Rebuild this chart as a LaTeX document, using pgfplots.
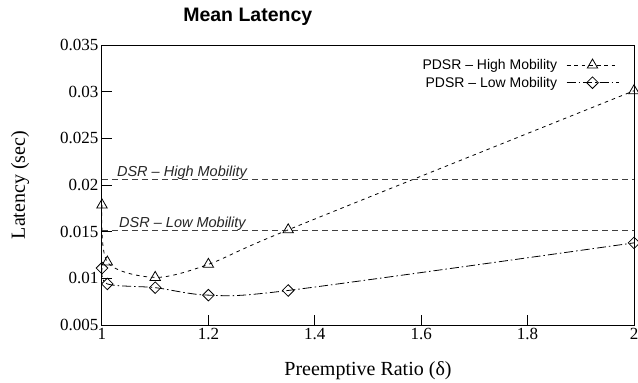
\documentclass[border=0pt]{standalone}
\usepackage{fontspec}
\setmainfont{Liberation Serif}
\newfontfamily\helv{Liberation Sans}
\usepackage{pgfplots}
\pgfplotsset{compat=1.18}
\begin{document}
\begin{tikzpicture}
\path[use as bounding box] (-102pt,-58pt) rectangle (536pt,325pt);
\begin{axis}[
  scale only axis, width=532pt, height=280pt,
  xmin=1, xmax=2, ymin=0.005, ymax=0.035,
  scaled y ticks=false, scaled x ticks=false,
  xtick={1,1.2,1.4,1.6,1.8,2}, xticklabels={1,1.2,1.4,1.6,1.8,2},
  ytick={0.005,0.01,0.015,0.02,0.025,0.03,0.035},
  yticklabels={0.005,0.01,0.015,0.02,0.025,0.03,0.035},
  xtick pos=bottom, ytick pos=left, tick align=inside, major tick length=10pt,
  tick style={black, line width=1pt},
  axis line style={line width=1pt},
  ticklabel style={font=\fontsize{17}{20}\selectfont},
  /pgf/number format/assume math mode=true,
  xlabel={Preemptive Ratio (δ)}, ylabel={Latency (sec)},
  label style={font=\fontsize{20}{24}\selectfont},
  xlabel style={at={(axis description cs:0.5,0)}, anchor=center, yshift=-46pt},
  ylabel style={at={(axis description cs:-0.1541,0.5)}, anchor=center, rotate=0},
  title={Mean Latency},
  title style={at={(axis description cs:0.274,1)}, anchor=base, yshift=18pt, font=\helv\bfseries\fontsize{19.5}{22}\selectfont},
  legend style={draw=none, fill=none, at={(axis description cs:0.972,0.957)}, anchor=north east,
    font=\helv\fontsize{14}{16}\selectfont, cells={anchor=east}, inner sep=0pt, column sep=7pt, row sep=2pt},
  legend plot pos=right,
  legend image code/.code={\draw[mark repeat=2, mark phase=2] plot coordinates {(0pt,0pt) (26pt,0pt) (52pt,0pt)};},
]
\addplot[black, line width=0.8pt, dash pattern=on 3.5pt off 4pt, smooth, tension=0.5,
  mark=triangle, mark size=6pt, mark options={solid, fill=white}]
  coordinates {(1,0.01786) (1.01,0.01175) (1.1,0.0101) (1.2,0.0115) (1.35,0.0152) (2,0.0301)};
\addlegendentry{PDSR – High Mobility}
\addplot[black, line width=0.8pt, dash pattern=on 9pt off 3pt on 1.5pt off 3pt, smooth, tension=0.5,
  mark=square, mark size=4.1pt, mark options={solid, rotate=45, fill=white}]
  coordinates {(1,0.0111) (1.01,0.0094) (1.1,0.0090) (1.2,0.0082) (1.35,0.0087) (2,0.0138)};
\addlegendentry{PDSR – Low Mobility}
\addplot[black!75, line width=0.8pt, dash pattern=on 6pt off 4pt, forget plot]
  coordinates {(1,0.02064) (2,0.02064)};
\addplot[black!75, line width=0.8pt, dash pattern=on 6pt off 4pt, forget plot]
  coordinates {(1,0.01518) (2,0.01518)};
\node[anchor=base west, inner sep=0pt, yshift=2.5pt, font=\helv\itshape\fontsize{14.5}{16}\selectfont, text=black!85]
  at (axis cs:1.028,0.02064) {DSR – High Mobility};
\node[anchor=base west, inner sep=0pt, yshift=2.5pt, font=\helv\itshape\fontsize{14.5}{16}\selectfont, text=black!85]
  at (axis cs:1.032,0.01518) {DSR – Low Mobility};
\end{axis}
\end{tikzpicture}
\end{document}
